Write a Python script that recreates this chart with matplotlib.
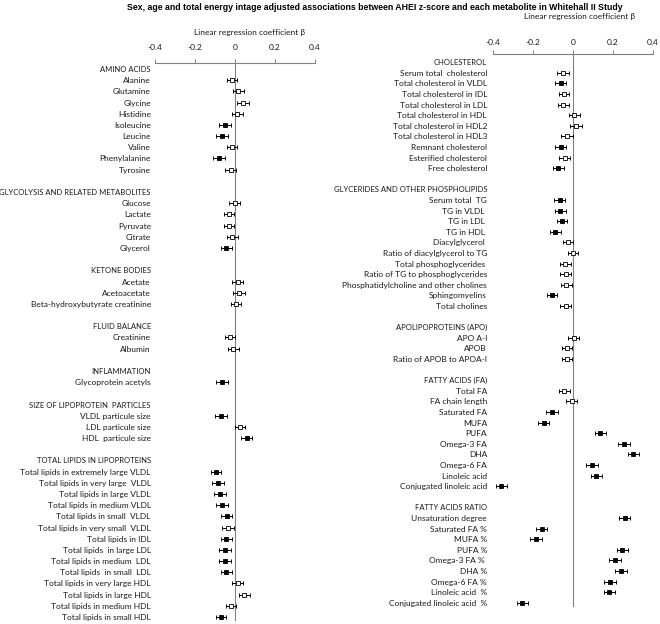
import numpy as np
import matplotlib
matplotlib.use("Agg")
import matplotlib.pyplot as plt

plt.rcParams['font.family'] = ['Lato', 'DejaVu Sans']

# ---- data: left panel ----
left_groups = ["AMINO ACIDS", "GLYCOLYSIS AND RELATED METABOLITES", "KETONE BODIES",
               "FLUID BALANCE", "INFLAMMATION", "SIZE OF LIPOPROTEIN  PARTICLES",
               "TOTAL LIPIDS IN LIPOPROTEINS"]
left_items = [
    ["Alanine", "Glutamine", "Glycine", "Histidine", "Isoleucine", "Leucine", "Valine",
     "Phenylalanine", "Tyrosine"],
    ["Glucose", "Lactate", "Pyruvate", "Citrate", "Glycerol"],
    ["Acetate", "Acetoacetate", "Beta-hydroxybutyrate creatinine"],
    ["Creatinine", "Albumin"],
    ["Glycoprotein acetyls"],
    ["VLDL particule size", "LDL particule size", "HDL  particule size"],
    ["Total lipids in extremely large VLDL", "Total lipids in very large  VLDL",
     "Total lipids in large VLDL", "Total lipids in medium VLDL", "Total lipids in small  VLDL",
     "Total lipids in very small  VLDL", "Total lipids in IDL", "Total lipids  in large LDL",
     "Total lipids in medium  LDL", "Total lipids  in small  LDL", "Total lipids in very large HDL",
     "Total lipids in large HDL", "Total lipids in medium HDL", "Total lipids in small HDL"],
]
left_beta = [
    [-0.017, 0.017, 0.038, 0.012, -0.050, -0.065, -0.013, -0.078, -0.022],
    [-0.002, -0.030, -0.030, -0.013, -0.043],
    [0.013, 0.020, 0.005],
    [-0.025, -0.008],
    [-0.065],
    [-0.072, 0.025, 0.058],
    [-0.095, -0.085, -0.075, -0.063, -0.042, -0.037, -0.043, -0.048, -0.048, -0.043,
     0.013, 0.047, -0.020, -0.070],
]
left_ci = [
    [0.025, 0.027, 0.030, 0.027, 0.028, 0.028, 0.025, 0.030, 0.027],
    [0.027, 0.027, 0.027, 0.027, 0.028],
    [0.027, 0.030, 0.027],
    [0.024, 0.027],
    [0.030],
    [0.030, 0.027, 0.027],
    [0.027, 0.030, 0.030, 0.030, 0.027, 0.030, 0.027, 0.030, 0.030, 0.027,
     0.027, 0.027, 0.027, 0.027],
]
left_sig = [
    [0, 0, 0, 0, 1, 1, 0, 1, 0],
    [0, 0, 0, 0, 1],
    [0, 0, 0],
    [0, 0],
    [1],
    [1, 0, 1],
    [1, 1, 1, 1, 1, 0, 1, 1, 1, 1, 0, 0, 0, 1],
]

# ---- data: right panel ----
right_groups = ["CHOLESTEROL", "GLYCERIDES AND OTHER PHOSPHOLIPIDS", "APOLIPOPROTEINS (APO)",
                "FATTY ACIDS (FA)", "FATTY ACIDS RATIO"]
right_items = [
    ["Serum total  cholesterol", "Total cholesterol in VLDL", "Total cholesterol in IDL",
     "Total cholesterol in LDL", "Total cholesterol in HDL", "Total cholesterol in HDL2",
     "Total cholesterol in HDL3", "Remnant cholesterol", "Esterified cholesterol",
     "Free cholesterol"],
    ["Serum total  TG", "TG in VLDL ", "TG in LDL ", "TG in HDL ", "Diacylglycerol ",
     "Ratio of diacylglycerol to TG", "Total phosphoglycerides ",
     "Ratio of TG to phosphoglycerides", "Phosphatidylcholine and other cholines",
     "Sphingomyelins", "Total cholines"],
    ["APO A-I", "APOB", "Ratio of APOB to APOA-I"],
    ["Total FA", "FA chain length", "Saturated FA", "MUFA", "PUFA", "Omega-3 FA", "DHA",
     "Omega-6 FA", "Linoleic acid", "Conjugated linoleic acid"],
    ["Unsaturation degree", "Saturated FA %", "MUFA %", "PUFA %", "Omega-3 FA % ", "DHA %",
     "Omega-6 FA %", "Linoleic acid  %", "Conjugated linoleic acid  %"],
]
right_beta = [
    [-0.050, -0.062, -0.045, -0.048, 0.007, 0.017, -0.030, -0.062, -0.042, -0.073],
    [-0.067, -0.063, -0.055, -0.088, -0.025, 0.000, -0.038, -0.037, -0.033, -0.107, -0.037],
    [0.003, -0.030, -0.030],
    [-0.043, -0.007, -0.105, -0.147, 0.137, 0.255, 0.302, 0.095, 0.117, -0.358],
    [0.258, -0.157, -0.185, 0.247, 0.210, 0.240, 0.185, 0.182, -0.253],
]
right_ci = [
    [0.030, 0.028, 0.027, 0.028, 0.028, 0.030, 0.028, 0.028, 0.027, 0.028],
    [0.028, 0.027, 0.027, 0.027, 0.025, 0.027, 0.027, 0.028, 0.027, 0.025, 0.027],
    [0.027, 0.027, 0.027],
    [0.027, 0.027, 0.028, 0.028, 0.028, 0.028, 0.028, 0.028, 0.028, 0.027],
    [0.028, 0.028, 0.028, 0.028, 0.028, 0.028, 0.028, 0.028, 0.027],
]
right_sig = [
    [0, 1, 0, 0, 0, 0, 0, 1, 0, 1],
    [1, 1, 1, 1, 0, 0, 0, 0, 0, 1, 0],
    [0, 0, 0],
    [0, 0, 1, 1, 1, 1, 1, 1, 1, 1],
    [1, 1, 1, 1, 1, 1, 1, 1, 1],
]

x_ticks = [-0.4, -0.2, 0, 0.2, 0.4]
x_ticklabels = ["-0.4", "-0.2", "0", "0.2", "0.4"]

GRAY = '#808080'
TXT = '#1a1a1a'
FS = 6.0      # item labels
FS_HEAD = 5.5  # group headers (caps run wide in Lato)


def draw_panel(ax, groups, items, beta, ci, sig, top_pad, bot_pad, label_pad, tick_pad):
    labels, heads, ys, b, c, s = [], [], [], [], [], []
    y = 0
    for g, its, bs, cs, ss in zip(groups, items, beta, ci, sig):
        labels.append(g)
        heads.append(y)
        y += 1
        for name, bb, cc, sg in zip(its, bs, cs, ss):
            labels.append(name)
            ys.append(y)
            b.append(bb)
            c.append(cc)
            s.append(sg)
            y += 1
        labels.append("")
        y += 1
    labels = labels[:-1]
    ys, b, c, s = map(np.array, (ys, b, c, s))

    ax.axvline(0, color=GRAY, lw=0.8, zorder=1)
    ax.errorbar(b, ys, xerr=c, fmt='none', ecolor='black', elinewidth=0.7,
                capsize=1.6, capthick=0.7, zorder=2)
    m = s == 1
    ax.plot(b[m], ys[m], 's', ms=3.5, mfc='black', mec='black', mew=0.6, zorder=3)
    ax.plot(b[~m], ys[~m], 's', ms=3.5, mfc='white', mec='black', mew=0.6, zorder=3)

    ax.set_xlim(-0.4, 0.4)
    ax.set_ylim(len(labels) - 1 + bot_pad, -top_pad)
    ax.set_yticks(range(len(labels)))
    ax.set_yticklabels(labels, fontsize=FS, color=TXT)
    for i, t in enumerate(ax.get_yticklabels()):
        if i in heads:
            t.set_fontsize(FS_HEAD)
    ax.tick_params(axis='y', length=0, pad=label_pad)

    ax.xaxis.set_ticks_position('top')
    ax.set_xticks(x_ticks)
    ax.set_xticklabels(x_ticklabels, fontsize=FS, color=TXT)
    ax.tick_params(axis='x', direction='out', length=3, width=0.7, color=GRAY, pad=tick_pad)
    for side in ['left', 'right', 'bottom']:
        ax.spines[side].set_visible(False)
    ax.spines['top'].set_color(GRAY)
    ax.spines['top'].set_linewidth(0.8)
    ax.set_facecolor('none')


W, H = 660, 624
fig = plt.figure(figsize=(6.6, 6.24), dpi=100)

ax_l = fig.add_axes([155 / W, 1 - 621 / H, 160 / W, (621 - 63) / H])
draw_panel(ax_l, left_groups, left_items, left_beta, left_ci, left_sig,
           top_pad=0.54, bot_pad=0.36, label_pad=3, tick_pad=6)

ax_r = fig.add_axes([493 / W, 1 - 607 / H, 160 / W, (607 - 54) / H])
draw_panel(ax_r, right_groups, right_items, right_beta, right_ci, right_sig,
           top_pad=0.78, bot_pad=0.4, label_pad=4.3, tick_pad=3)

fig.text(375 / W, 1 - 7 / H,
         "Sex, age and total energy intage adjusted associations between AHEI z-score "
         "and each metabolite in Whitehall II Study",
         ha='center', va='center', fontsize=6.3, fontweight='bold',
         family=['Liberation Sans', 'DejaVu Sans'])
fig.text(250 / W, 1 - 32 / H, "Linear regression coefficient β", ha='center', va='center',
         fontsize=FS, color=TXT)
fig.text(580 / W, 1 - 17 / H, "Linear regression coefficient β", ha='center', va='center',
         fontsize=FS, color=TXT)

fig.savefig("out.png", dpi=100)
